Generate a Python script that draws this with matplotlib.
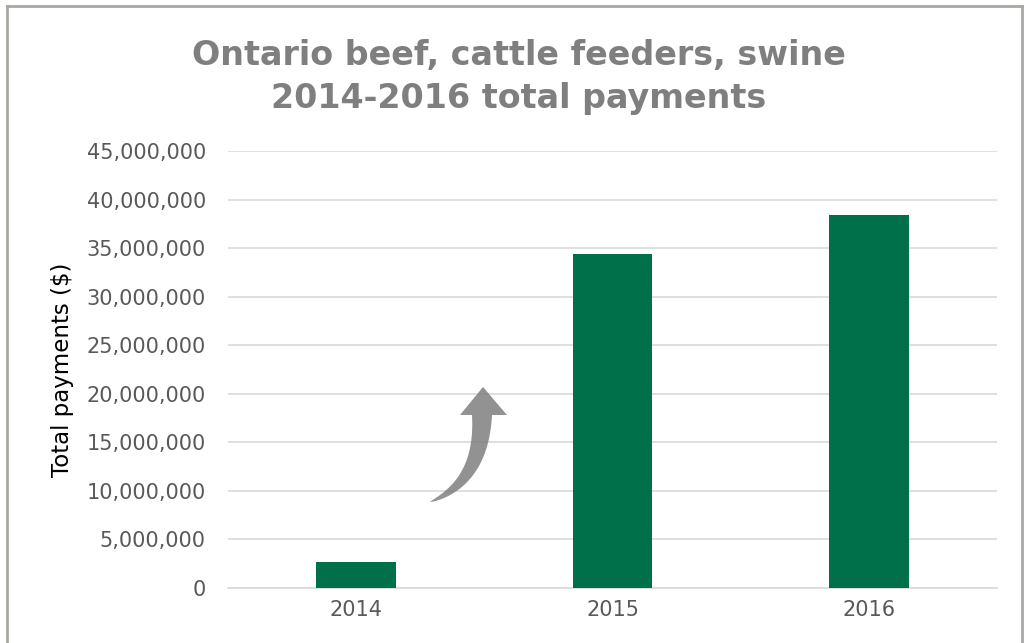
import matplotlib
matplotlib.use("Agg")
import matplotlib.pyplot as plt
from matplotlib.patches import Polygon
from matplotlib.lines import Line2D
from matplotlib.ticker import FuncFormatter
import numpy as np

years = ["2014", "2015", "2016"]
payments = [2650000, 34400000, 38400000]
title = "Ontario beef, cattle feeders, swine\n2014-2016 total payments"
ylabel = "Total payments ($)"

plt.rcParams['font.family'] = ['DejaVu Sans']

W, H = 1025, 643
fig = plt.figure(figsize=(W / 100, H / 100), dpi=100)
ax = fig.add_axes([228 / W, 1 - 588 / H, (997 - 228) / W, (588 - 151) / H])

x = np.arange(len(years))
ax.bar(x, payments, width=0.31, color="#00704A", zorder=3)
ax.set_xlim(-0.5, len(years) - 0.5)
ax.set_ylim(0, 45000000)
ax.set_yticks(np.arange(0, 45000001, 5000000))
ax.yaxis.set_major_formatter(FuncFormatter(lambda v, p: f"{int(v):,}"))
ax.set_xticks(x)
ax.set_xticklabels(years)
ax.grid(axis="y", color="#d9d9d9", linewidth=1.2, zorder=0)
for s in ["top", "right", "left"]:
    ax.spines[s].set_visible(False)
ax.spines["bottom"].set_color("#d9d9d9")
ax.spines["bottom"].set_linewidth(1.2)
ax.tick_params(axis="both", length=0, labelsize=15, labelcolor="#595959")
ax.tick_params(axis="y", pad=16)
ax.tick_params(axis="x", pad=9)
ax.set_ylabel(ylabel, fontsize=16.5, color="black", labelpad=9)

fig.text(0.5 + 6 / W, 1 - 77 / H, title, ha="center", va="center", fontsize=24,
         fontweight="bold", color="#7f7f7f", linespacing=1.38)

# frame
fc = "#a8a8a2"
fig.add_artist(Line2D([7 / W, 1022 / W], [1 - 6 / H, 1 - 6 / H], color=fc, lw=2, transform=fig.transFigure))
fig.add_artist(Line2D([7 / W, 7 / W], [0, 1 - 6 / H], color=fc, lw=2, transform=fig.transFigure))
fig.add_artist(Line2D([1022 / W, 1022 / W], [0, 1 - 6 / H], color=fc, lw=2, transform=fig.transFigure))

# curved arrow (pixel coords, y from top)
t = np.linspace(0, 1, 40)
p0 = np.array([430.0, 502.0]); p1 = np.array([482.0, 482.0]); p2 = np.array([482.0, 415.0])
c = ((1 - t) ** 2)[:, None] * p0 + (2 * (1 - t) * t)[:, None] * p1 + (t ** 2)[:, None] * p2
d = (2 * (1 - t))[:, None] * (p1 - p0) + (2 * t)[:, None] * (p2 - p1)
n = np.stack([-d[:, 1], d[:, 0]], axis=1)
n /= np.linalg.norm(n, axis=1)[:, None]
w = 10 * t ** 0.7
left = c + n * w[:, None]
right = c - n * w[:, None]
head = np.array([[460, 415], [483, 387], [507, 415]])
pts = np.vstack([left, [[c[-1, 0] - 10, 415]], head, [[c[-1, 0] + 10, 415]], right[::-1]])
pts[:, 1] = H - pts[:, 1]
fig.add_artist(Polygon(pts, closed=True, facecolor="#7f7f7f", edgecolor="none", alpha=0.85,
                       transform=None))

fig.savefig("out.png", dpi=100)
